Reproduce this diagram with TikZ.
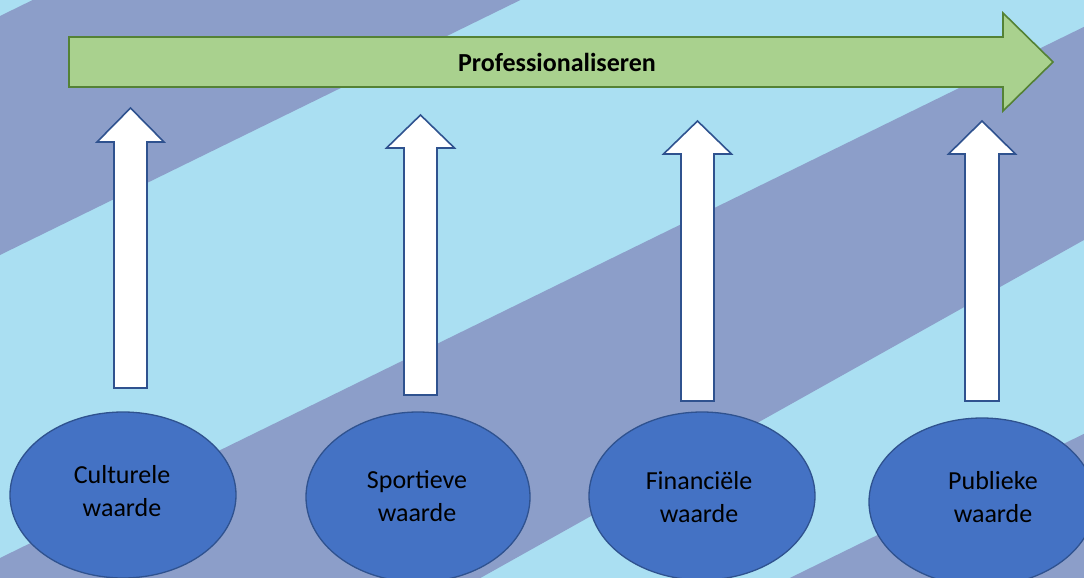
\documentclass[tikz,border=0pt]{standalone}
\usepackage{fontspec}
\setmainfont{Carlito}
\usetikzlibrary{shapes.geometric}
\definecolor{lblue}{HTML}{AADFF2}
\definecolor{purp}{HTML}{8C9EC9}
\definecolor{gfill}{HTML}{A9D18E}
\definecolor{gline}{HTML}{548235}
\definecolor{efill}{HTML}{4472C4}
\definecolor{eline}{HTML}{2F528F}
\begin{document}
\begin{tikzpicture}[x=1pt,y=-1pt,
  greenarrow/.style={fill=gfill,draw=gline,line width=1.6pt,line join=miter},
  proftext/.style={font=\fontsize{26}{32}\selectfont\bfseries,text=black,inner sep=0pt},
  whitearrow/.style={fill=white,draw=eline,line width=1.6pt,line join=miter},
  valnode/.style={ellipse,fill=efill,draw=eline,line width=1.3pt,inner sep=0pt},
  lbl/.style={font=\fontsize{26}{32.5}\selectfont,text=black,align=center,inner sep=0pt}]
\useasboundingbox (0,0) rectangle (1084,578);
\begin{scope}
\clip (0,0) rectangle (1084,578);
\fill[lblue] (0,0) rectangle (1084,578);
% purple diagonal bands: upper edge (left y, right y) / lower edge (left y, right y), at x=-50 and x=1150
\foreach \a/\b/\c/\d in {40.5/-547.5/279.5/-308.5, 582.5/-5.5/875/203, 989.5/401.5/1800/1200}
  \fill[purp] (-50,\a) -- (1150,\b) -- (1150,\d) -- (-50,\c) -- cycle;
\end{scope}
% main arrow
\draw[greenarrow] (69,37) -- (1003,37) -- (1003,13) -- (1053,62) -- (1003,111) -- (1003,87) -- (69,87) -- cycle;
\node[proftext] (prof) at (557,62) {Professionaliseren};
% up arrows
\foreach \cx/\tip/\hb/\hw/\sw/\bot in {130.5/108/142/33.5/16.5/388, 420.5/115/148/34/16.5/395, 697.5/121/154/34/16.5/401, 982/121/154/33.5/17/401}
  \draw[whitearrow] (\cx-\sw,\bot) -- (\cx-\sw,\hb) -- (\cx-\hw,\hb) -- (\cx,\tip) -- (\cx+\hw,\hb) -- (\cx+\sw,\hb) -- (\cx+\sw,\bot) -- cycle;
% value ellipses
\node[valnode,minimum width=226,minimum height=166] (cult) at (123,495) {};
\node[valnode,minimum width=224,minimum height=170] (sport) at (418,497) {};
\node[valnode,minimum width=226,minimum height=168] (fin) at (702,496) {};
\node[valnode,minimum width=226,minimum height=168] (pub) at (982,502) {};
\node[lbl] (cultt) at (122,491) {Culturele\\waarde};
\node[lbl] (sportt) at (417,496) {Sportieve\\waarde};
\node[lbl] (fint) at (699,497) {Financiële\\waarde};
\node[lbl] (pubt) at (993,497) {Publieke\\waarde};
\end{tikzpicture}
\end{document}
